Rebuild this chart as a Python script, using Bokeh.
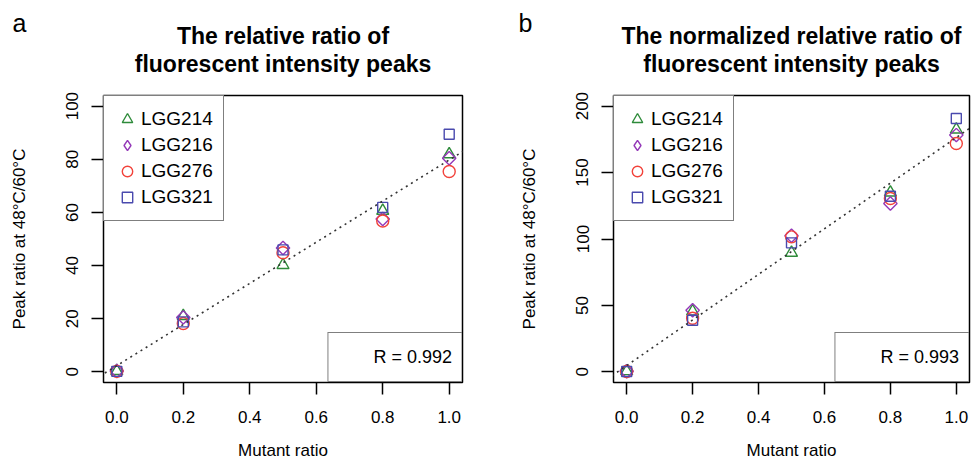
import numpy as np
from bokeh.plotting import figure
from bokeh.models import Range1d, Legend, LegendItem, Label, Slope, FixedTicker, ColumnDataSource
from bokeh.layouts import row
from bokeh.embed import file_html
from bokeh.resources import INLINE

# ---------------- data ----------------
mutant_ratio = [0.0, 0.2, 0.5, 0.8, 1.0]
samples = ["LGG214", "LGG216", "LGG276", "LGG321"]

a_lgg214 = [0.3, 21.0, 40.2, 60.6, 81.9]
a_lgg216 = [0.3, 20.5, 46.6, 57.5, 80.4]
a_lgg276 = [0.2, 18.2, 44.8, 56.8, 75.4]
a_lgg321 = [0.2, 18.8, 45.9, 61.9, 89.4]

b_lgg214 = [0.5, 45.5, 89.6, 135.0, 182.4]
b_lgg216 = [0.5, 46.4, 102.4, 126.7, 178.2]
b_lgg276 = [0.3, 40.4, 101.6, 130.5, 171.9]
b_lgg321 = [0.3, 38.9, 97.1, 132.2, 190.7]

r_value_a = "R = 0.992"
r_value_b = "R = 0.993"

x_ticks = [0.0, 0.2, 0.4, 0.6, 0.8, 1.0]
x_tick_labels = ["0.0", "0.2", "0.4", "0.6", "0.8", "1.0"]
a_y_ticks = [0, 20, 40, 60, 80, 100]
b_y_ticks = [0, 50, 100, 150, 200]

title_a = ["The relative ratio of", "fluorescent intensity peaks"]
title_b = ["The normalized relative ratio of", "fluorescent intensity peaks"]
panel_labels = ["a", "b"]
x_label = "Mutant ratio"
y_label = "Peak ratio at 48\u00b0C/60\u00b0C"

# ---------------- style ----------------
FONT = "Liberation Sans"
colors = ["#2E8B3A", "#9438B8", "#F2423A", "#4A4AAE"]
markers = ["triangle", "square", "circle", "square"]
legend_markers = ["triangle", "diamond", "circle", "square"]
angles = [0.0, np.pi / 4, 0.0, 0.0]
sizes = [12, 9.5, 12, 10]

TOP, BOTTOM, HEIGHT = 95, 84, 466


def make_panel(series, yr, yticks, title_lines, panel_label, r_text,
               width, left, right, label_cx):
    frame_w = width - left - right
    frame_h = HEIGHT - TOP - BOTTOM
    x0, x1 = -0.04, 1.04
    y0, y1 = yr[0] - 0.04 * (yr[1] - yr[0]), yr[1] + 0.04 * (yr[1] - yr[0])

    p = figure(width=width, height=HEIGHT, output_backend="svg", toolbar_location=None,
               x_range=Range1d(x0, x1), y_range=Range1d(y0, y1),
               min_border_left=left, min_border_right=right,
               min_border_top=TOP, min_border_bottom=BOTTOM)
    p.grid.visible = False
    p.background_fill_color = "white"
    p.border_fill_color = "white"
    p.outline_line_color = "black"
    p.outline_line_width = 1.5

    for ax in (p.xaxis[0], p.yaxis[0]):
        ax.axis_line_color = None
        ax.major_tick_line_color = "black"
        ax.major_tick_line_width = 1.5
        ax.major_tick_in = 0
        ax.major_tick_out = 12
        ax.minor_tick_line_color = None
        ax.major_label_text_font = FONT
        ax.major_label_text_font_size = "17px"
        ax.major_label_text_color = "black"
        ax.axis_label_text_font = FONT
        ax.axis_label_text_font_size = "17px"
        ax.axis_label_text_font_style = "normal"
        ax.axis_label_text_color = "black"

    p.xaxis.ticker = FixedTicker(ticks=x_ticks)
    p.xaxis.major_label_overrides = {t: l for t, l in zip(x_ticks, x_tick_labels)}
    p.xaxis.major_label_standoff = 16
    p.xaxis.axis_label = x_label
    p.xaxis.axis_label_standoff = 15

    p.yaxis.ticker = FixedTicker(ticks=yticks)
    p.yaxis.major_label_orientation = "vertical"
    p.yaxis.major_label_standoff = 13
    p.yaxis.axis_label = y_label
    p.yaxis.axis_label_standoff = 35

    # dotted regression line fitted on all points
    allx = np.tile(mutant_ratio, len(series))
    ally = np.concatenate([np.asarray(s, dtype=float) for s in series])
    m, b = np.polyfit(allx, ally, 1)
    p.add_layout(Slope(gradient=m, y_intercept=b, line_color="#333333",
                       line_dash="2 4", line_width=1.6))

    items = []
    for name, ys, c, mk, lmk, ang, sz in zip(samples, series, colors, markers,
                                              legend_markers, angles, sizes):
        src = ColumnDataSource(dict(x=mutant_ratio, y=ys))
        r = p.scatter("x", "y", source=src, marker=mk, angle=ang, size=sz,
                      fill_color=None, line_color=c, line_width=1.4)
        if lmk != mk:
            # legend-only proxy (a single undrawable NaN point)
            proxy = ColumnDataSource(dict(x=[np.nan], y=[np.nan]))
            r = p.scatter("x", "y", source=proxy, marker=lmk, size=sz,
                          fill_color=None, line_color=c, line_width=1.4)
        items.append(LegendItem(label=name, renderers=[r]))

    leg = Legend(items=items, location="top_left", margin=0, padding=10, spacing=0,
                 label_height=26, glyph_height=26, glyph_width=26, label_standoff=1,
                 label_text_font=FONT, label_text_font_size="19px", label_text_color="black",
                 border_line_color="black", border_line_width=1.5, background_fill_alpha=1.0)
    p.add_layout(leg, "center")

    empty = ColumnDataSource(dict(x=[], y=[]))
    rr = p.scatter("x", "y", source=empty, size=1, fill_alpha=0, line_alpha=0)
    leg_r = Legend(items=[LegendItem(label=r_text, renderers=[rr])], location="bottom_right",
                   margin=0, padding=9, spacing=0, label_height=30, glyph_height=30,
                   glyph_width=28, label_standoff=8,
                   label_text_font=FONT, label_text_font_size="18px", label_text_color="black",
                   border_line_color="black", border_line_width=1.5, background_fill_alpha=1.0)
    p.add_layout(leg_r, "center")

    # helpers from canvas pixels to data coordinates
    def dx(cx):
        return x0 + (cx - left) * (x1 - x0) / frame_w

    def dy(cy):
        return y1 + (TOP - cy) * (y1 - y0) / frame_h

    cx_mid = left + frame_w / 2
    for txt, cy in zip(title_lines, [35, 63]):
        p.add_layout(Label(x=dx(cx_mid), y=dy(cy), text=txt, text_align="center",
                           text_baseline="alphabetic", text_font=FONT, text_font_size="23px",
                           text_font_style="bold", text_color="black"), "above")
    p.add_layout(Label(x=dx(label_cx), y=dy(22), text=panel_label, text_align="center",
                       text_baseline="alphabetic", text_font=FONT, text_font_size="25px",
                       text_color="black"), "above")
    return p


pa = make_panel([a_lgg214, a_lgg216, a_lgg276, a_lgg321], (0, 100), a_y_ticks, title_a,
                panel_labels[0], r_value_a, width=510, left=103, right=48, label_cx=19)
pb = make_panel([b_lgg214, b_lgg216, b_lgg276, b_lgg321], (0, 200), b_y_ticks, title_b,
                panel_labels[1], r_value_b, width=462, left=103, right=3, label_cx=15)

layout = row(pa, pb)
open("out.html", "w").write(file_html(layout, INLINE))
